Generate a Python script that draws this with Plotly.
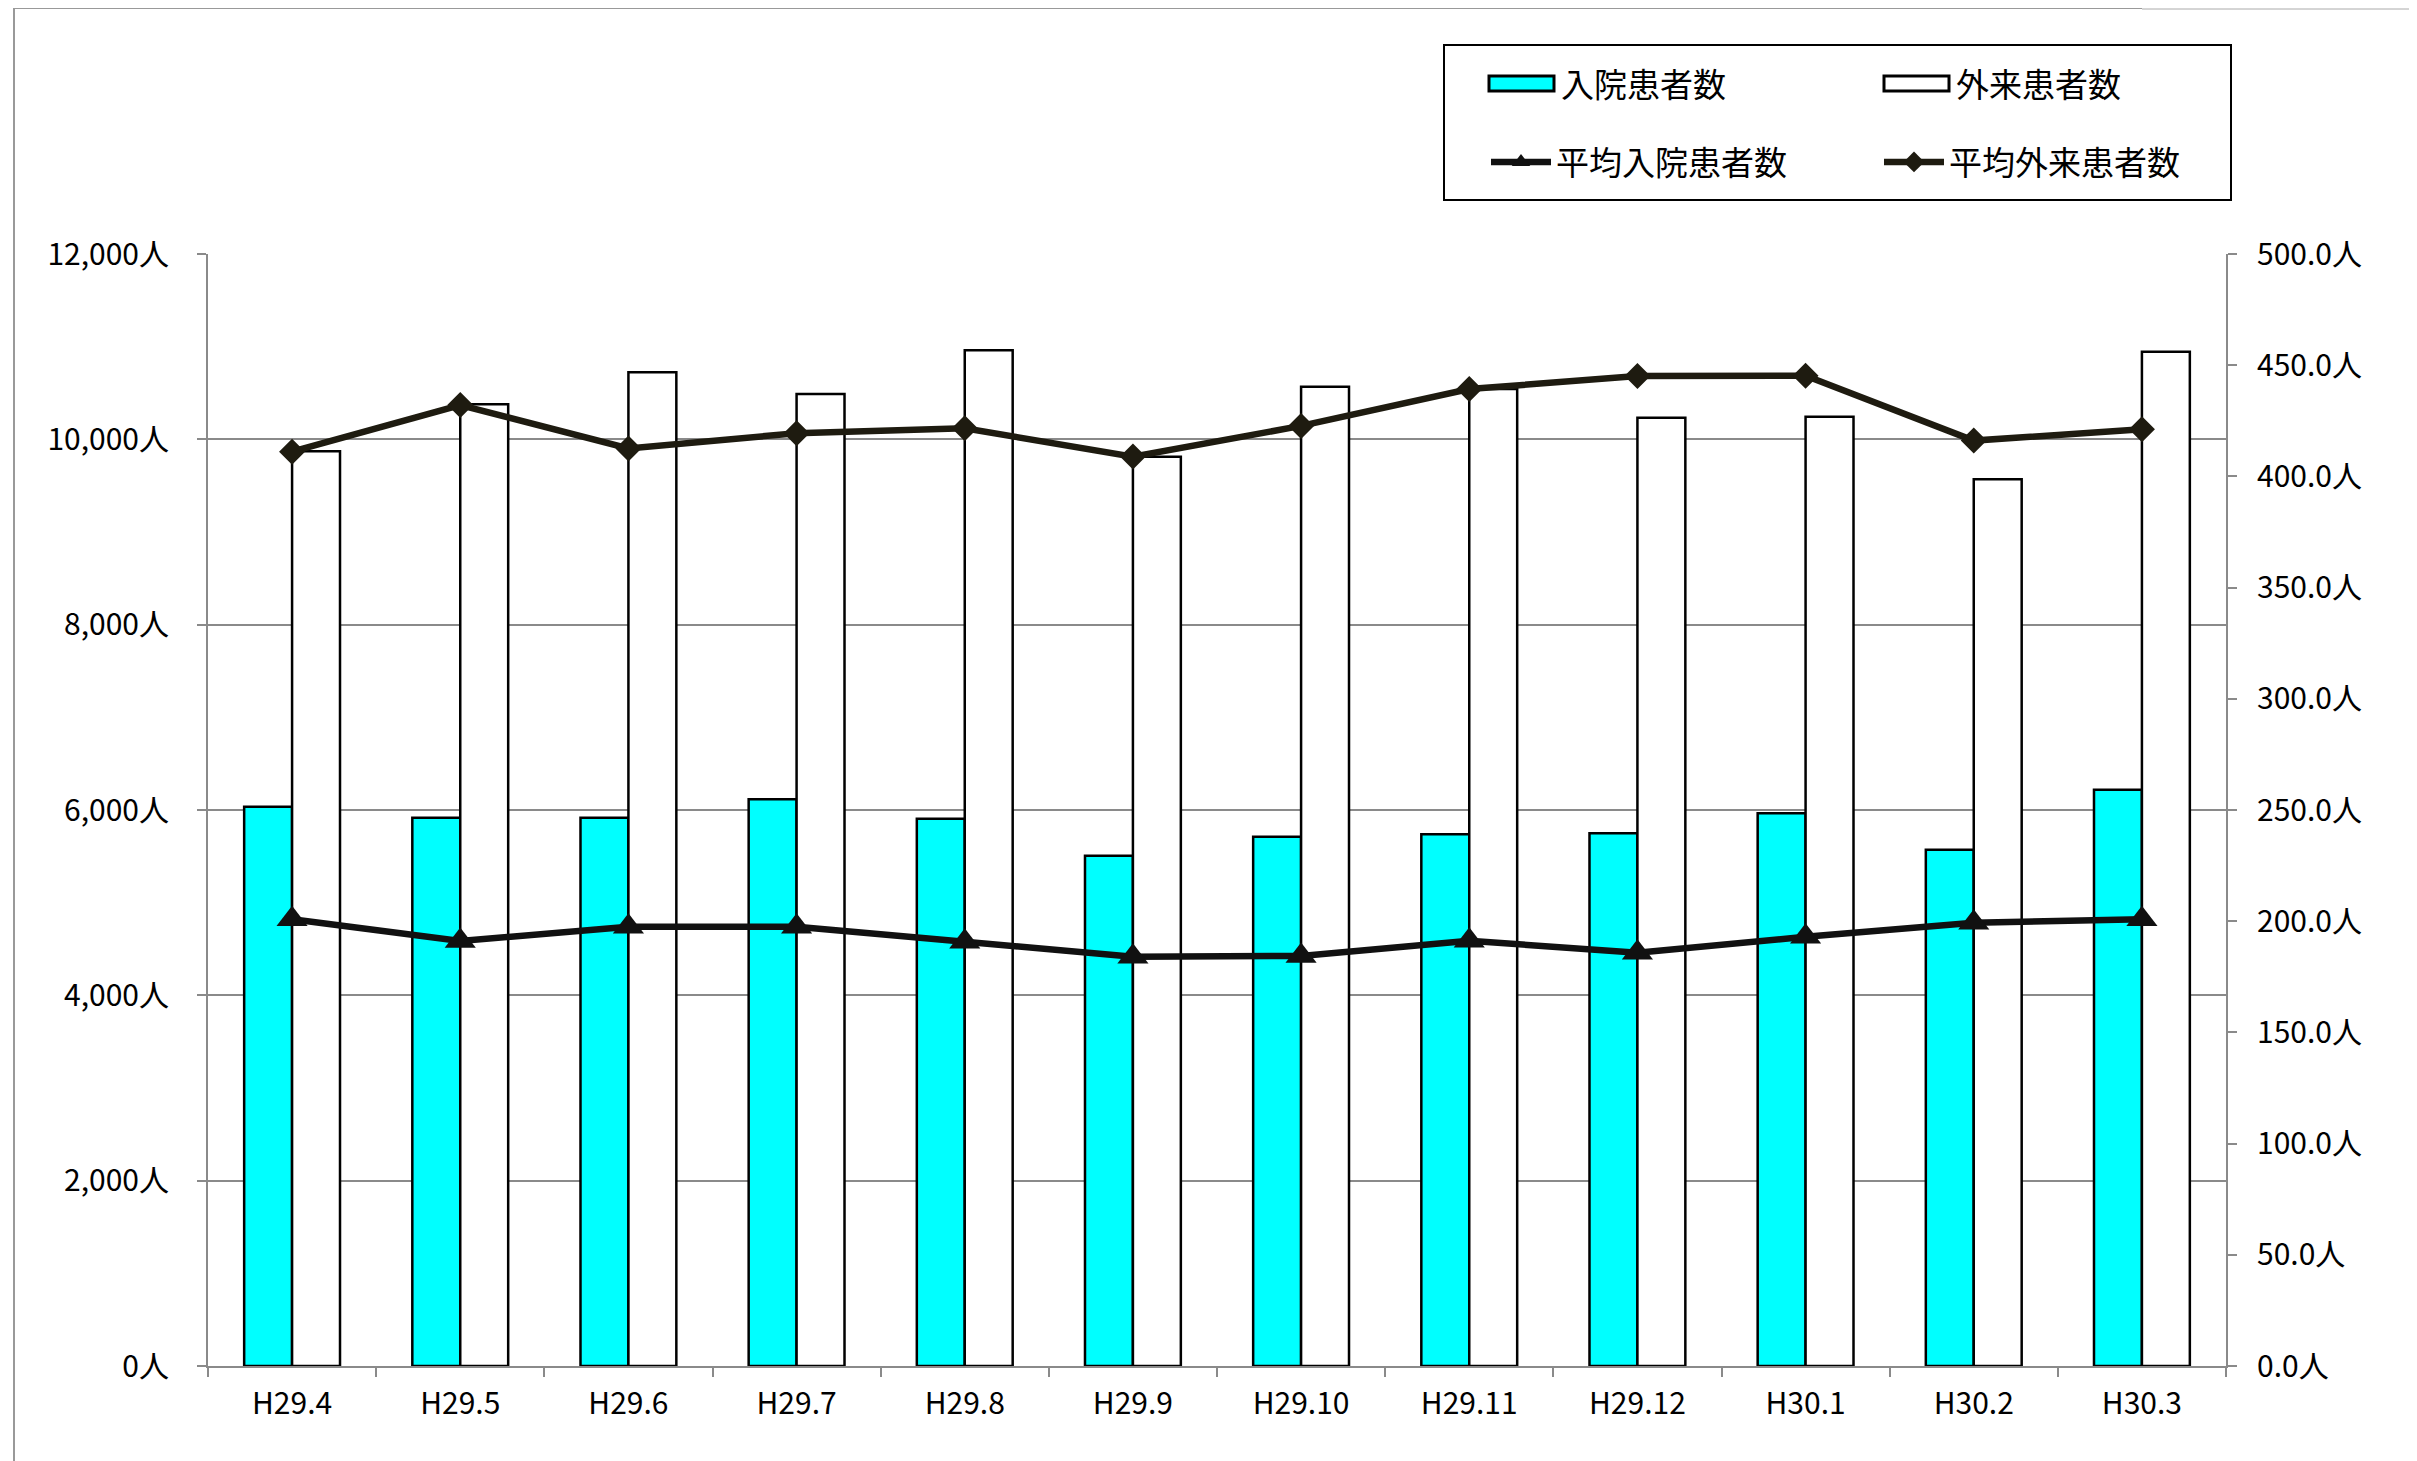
import plotly.graph_objects as go

months = ["H29.4", "H29.5", "H29.6", "H29.7", "H29.8", "H29.9",
          "H29.10", "H29.11", "H29.12", "H30.1", "H30.2", "H30.3"]
inpatients = [6035, 5917, 5917, 6115, 5906, 5507, 5712, 5737, 5748, 5964, 5571, 6219]
outpatients = [9871, 10378, 10723, 10489, 10960, 9812, 10568, 10543, 10233, 10244, 9568, 10945]
avg_inpatients = [200.9, 191.1, 197.5, 197.5, 190.8, 184.0, 184.4, 191.2, 185.8, 193.0, 199.3, 200.9]
avg_outpatients = [411.1, 432.1, 412.6, 419.4, 421.6, 408.9, 422.7, 439.3, 445.1, 445.3, 416.1, 421.2]
legend_bar_labels = ["入院患者数", "外来患者数"]

# page body has an 8px margin; work in screen pixels and convert
OFF = 8
SW, SH = 2417, 1461
W, H = SW - OFF, SH - OFF
# plot area in screen pixels
PL, PT, PR, PB = 208, 254, 2226, 1366
L, T = PL - OFF, PT - OFF
R, B = SW - PR, SH - PB
PW, PH = PR - PL, PB - PT


def px_x(p):
    return (p - PL) / PW


def px_y(p):
    return (PB - p) / PH


FONT = "Noto Sans CJK JP"
GRID = "#8a8a8a"

fig = go.Figure()
fig.add_trace(go.Bar(
    x=months, y=inpatients, name=legend_bar_labels[0], showlegend=False,
    marker=dict(color="#00FFFF", line=dict(color="black", width=2.5)),
    yaxis="y"))
fig.add_trace(go.Bar(
    x=months, y=outpatients, name=legend_bar_labels[1], showlegend=False,
    marker=dict(color="white", line=dict(color="black", width=2.5)),
    yaxis="y"))
fig.add_trace(go.Scatter(
    x=months, y=avg_inpatients, name="平均入院患者数", mode="lines+markers",
    line=dict(color="#111111", width=6.5),
    marker=dict(symbol="triangle-up", size=27, color="#111111"),
    legend="legend", yaxis="y2"))
fig.add_trace(go.Scatter(
    x=months, y=avg_outpatients, name="平均外来患者数", mode="lines+markers",
    line=dict(color="#1E1B10", width=6.5),
    marker=dict(symbol="diamond", size=20, color="#1E1B10"),
    legend="legend", yaxis="y2"))

axis_common = dict(
    showline=True, linecolor=GRID, linewidth=2,
    ticks="outside", ticklen=9, tickwidth=2, tickcolor=GRID,
    tickfont=dict(family=FONT, size=30, color="black"),
    zeroline=False,
)

LEG_FONT = 33
shapes = [
    # legend frame
    dict(type="rect", xref="paper", yref="paper",
         x0=px_x(1444), x1=px_x(2231), y0=px_y(200), y1=px_y(45),
         line=dict(color="black", width=2), fillcolor="rgba(0,0,0,0)"),
    # legend symbols for the bar series
    dict(type="rect", xref="paper", yref="paper",
         x0=px_x(1489), x1=px_x(1554), y0=px_y(91), y1=px_y(76),
         line=dict(color="black", width=3), fillcolor="#00FFFF"),
    dict(type="rect", xref="paper", yref="paper",
         x0=px_x(1884), x1=px_x(1949), y0=px_y(91), y1=px_y(76),
         line=dict(color="black", width=3), fillcolor="white"),
    # outer chart frame (left and top edges)
    dict(type="line", xref="paper", yref="paper",
         x0=px_x(14), x1=px_x(14), y0=px_y(1470), y1=px_y(8),
         line=dict(color="#999999", width=2)),
    dict(type="line", xref="paper", yref="paper",
         x0=px_x(14), x1=px_x(2142), y0=px_y(8), y1=px_y(8),
         line=dict(color="#999999", width=2)),
    dict(type="line", xref="paper", yref="paper",
         x0=px_x(2142), x1=px_x(2425), y0=px_y(9), y1=px_y(9),
         line=dict(color="#aaaaaa", width=1)),
]

annotations = [
    dict(xref="paper", yref="paper", x=px_x(1559), y=px_y(83),
         xanchor="left", yanchor="middle", showarrow=False,
         text=legend_bar_labels[0], font=dict(family=FONT, size=LEG_FONT, color="black")),
    dict(xref="paper", yref="paper", x=px_x(1954), y=px_y(83),
         xanchor="left", yanchor="middle", showarrow=False,
         text=legend_bar_labels[1], font=dict(family=FONT, size=LEG_FONT, color="black")),
]

fig.update_layout(
    width=W, height=H,
    margin=dict(l=L, r=R, t=T, b=B, autoexpand=False),
    paper_bgcolor="white", plot_bgcolor="white",
    font=dict(family=FONT, color="black"),
    barmode="group", bargap=0.43, bargroupgap=0,
    xaxis=dict(type="category", tickson="boundaries", showgrid=False,
               range=[-0.5, len(months) - 0.5], autorange=False,
               ticklabelstandoff=10, **axis_common),
    yaxis=dict(range=[0, 12000], dtick=2000, tickformat=",d", ticksuffix="人",
               showgrid=True, gridcolor=GRID, gridwidth=2,
               ticklabelstandoff=22, **axis_common),
    yaxis2=dict(range=[0, 500], dtick=50, tickformat=".1f", ticksuffix="人",
                overlaying="y", side="right", showgrid=False,
                ticklabelstandoff=14, **axis_common),
    legend=dict(orientation="h", x=px_x(1486), xanchor="left",
                y=px_y(162), yanchor="middle",
                entrywidth=318, entrywidthmode="pixels",
                font=dict(family=FONT, size=LEG_FONT, color="black"),
                bgcolor="rgba(0,0,0,0)", itemwidth=60),
    shapes=shapes,
    annotations=annotations,
)

fig.write_html("out.html")
